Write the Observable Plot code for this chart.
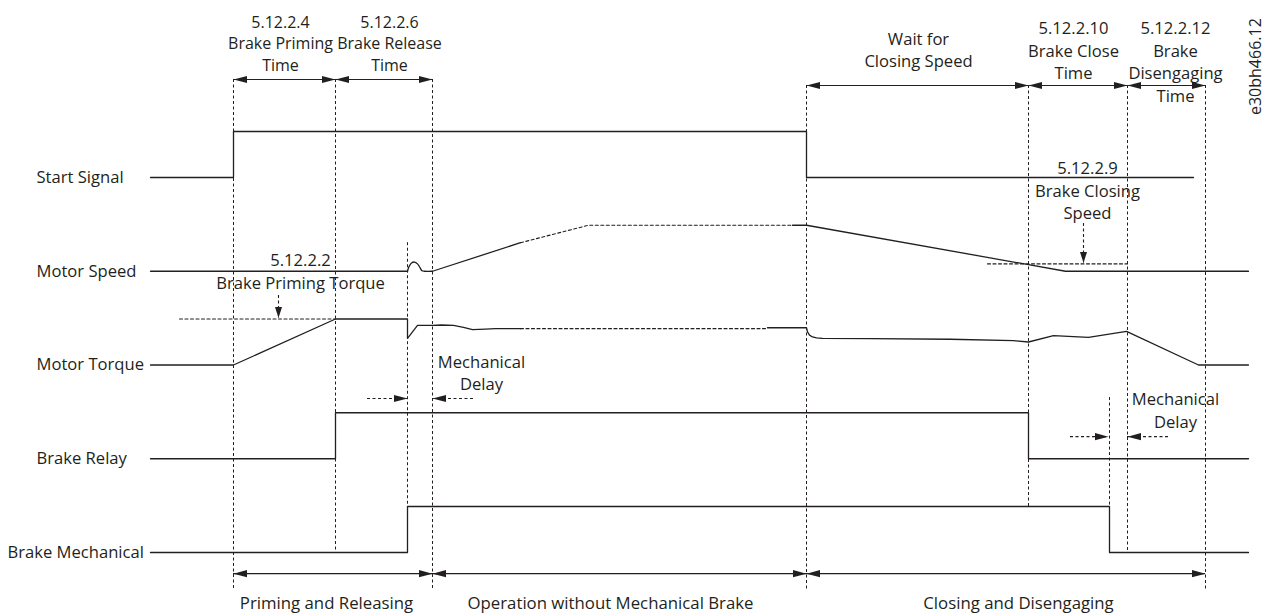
<!DOCTYPE html>
<html>
<head>
<meta charset="utf-8">
<script src="https://cdn.jsdelivr.net/npm/d3@7"></script>
<script src="https://cdn.jsdelivr.net/npm/@observablehq/plot@0.6"></script>
<style>
  html, body { margin: 0; padding: 0; background: #fff; }
  #chart svg { display: block; }
</style>
</head>
<body>
<div id="chart"></div>
<script>
// ---------- data (time on x, signal level 0..1 within each row) ----------
const rowLabels = ["Start Signal", "Motor Speed", "Motor Torque", "Brake Relay", "Brake Mechanical"];

const startSignal     = [[150,0],[233,0],[233,1],[806,1],[806,0],[1193,0]];
const motorSpeedA     = [[150,0],[407,0]];
const motorSpeedBump  = [[407,0],[408.5,0.1],[411,0.18],[414,0.2],[417,0.16],[419.5,0.08],[421.5,0.01],[424,0],[432,0]];
const motorSpeedRamp  = [[432,0],[520,0.62]];
const motorSpeedEst   = [[520,0.62],[588,1],[792,1]];
const motorSpeedB     = [[792,1],[806,1],[1065,0],[1248,0]];
const closingSpeed    = [[987,0.16],[1127,0.16]];
const motorTorqueA    = [[150,0],[233,0],[335,1],[407,1],[407,0.58],[417,0.86],[432,0.86],[441,0.87],[453,0.86],[463,0.82],[472,0.77],[485,0.78],[495,0.79],[520,0.79]];
const motorTorqueEst  = [[520,0.79],[767,0.79]];
const motorTorqueB    = [[767,0.81],[806,0.81],[807,0.72],[809,0.65],[812,0.61],[816,0.59],[822,0.58],[870,0.575],[950,0.56],[1013,0.53],[1028,0.5],[1053,0.64],[1088,0.6],[1126,0.73],[1198,0],[1248,0]];
const primingTorque   = [[179,1],[335,1]];
const brakeRelay      = [[150,0],[335,0],[335,1],[1028,1],[1028,0],[1248,0]];
const brakeMechanical = [[150,0],[407,0],[407,1],[1109,1],[1109,0],[1248,0]];

// event guide lines: time, [row, level] top, [row, level] bottom
const guideT    = [233, 335, 407, 432, 806, 1028, 1109, 1127, 1205];
const guideFrom = [[0,2.13],[0,2.13],[1,0.62],[0,2.13],[0,2.0],[0,2.0],[3,1.33],[0,2.0],[0,2.0]];
const guideTo   = [[4,-0.83],[4,0],[4,1],[4,-0.83],[4,-0.83],[4,1],[4,0],[4,0],[4,-0.83]];

// timing spans (double arrows)
const topSpansLeft  = [[233,335],[335,432]];
const topSpansRight = [[806,1028],[1028,1127],[1127,1205]];
const phaseSpans    = [[233,432],[432,806],[806,1205]];
const phaseLabels   = ["Priming and Releasing", "Operation without Mechanical Brake", "Closing and Disengaging"];
const phaseLabelT   = [326, 610, 1018];

// mechanical delay arrows: from, to, row, level
const delayArrows = [[367,407,3,1.31],[473,432,3,1.31],[1070,1108,3,0.48],[1168,1127,3,0.48]];
// vertical pointer arrows: time, row, level from, level to
const pointerArrows = [[278,2,1.51,1.02],[1083,1,1.04,0.18]];

// annotation texts
const notes = [
  [280, 0, 2.935, "5.12.2.4\nBrake Priming\nTime"],
  [389, 0, 2.935, "5.12.2.6\nBrake Release\nTime"],
  [918, 0, 2.80,  "Wait for\nClosing Speed"],
  [1073, 0, 2.78, "5.12.2.10\nBrake Close\nTime"],
  [1175, 0, 2.54, "5.12.2.12\nBrake\nDisengaging\nTime"],
  [300, 1, 0.016, "5.12.2.2\nBrake Priming Torque"],
  [1087, 1, 1.777, "5.12.2.9\nBrake Closing\nSpeed"],
  [481, 2, -0.152, "Mechanical\nDelay"],
  [1175, 3, 1.07, "Mechanical\nDelay"]
];
const figureCode = "e30bh466.12";

// ---------- helpers ----------
const INK = "#231f20";
const ROW = 93.75 / 46;                      // row spacing in level units
const Y = (row, level) => row * ROW - level;
const series = (pts, row) => pts.map(([t, v]) => ({t, y: Y(row, v)}));
const DASH = "3,2.5";

const headBig = {draw(c) { c.moveTo(0,0); c.lineTo(-13.5,-3.6); c.lineTo(-13.5,3.6); c.closePath(); }};
const headSmall = {draw(c) { c.moveTo(0,0); c.lineTo(-11,-3.5); c.lineTo(-11,3.5); c.closePath(); }};

const guides = guideT.map((t, i) => ({t, y1: Y(...guideFrom[i]), y2: Y(...guideTo[i])}));

const spans = [
  ...topSpansLeft.map(([a,b]) => ({a, b, y: Y(0, 2.13)})),
  ...topSpansRight.map(([a,b]) => ({a, b, y: Y(0, 2.0)})),
  ...phaseSpans.map(([a,b]) => ({a, b, y: Y(4, -0.46)}))
];
const spanHeads = spans.flatMap(s => [{t: s.a, y: s.y, r: 180}, {t: s.b, y: s.y, r: 0}]);

const delays = delayArrows.map(([a,b,row,lv]) => ({a, b, y: Y(row, lv), r: b > a ? 0 : 180}));
const pointers = pointerArrows.map(([t,row,l1,l2]) => ({t, y1: Y(row,l1), y2: Y(row,l2)}));

const rows = rowLabels.map((name, i) => ({name, y: Y(i, 0), i}));

const lineOpts = {x: "t", y: "y", stroke: INK, strokeWidth: 1.3};
const dashOpts = {x: "t", y: "y", stroke: INK, strokeWidth: 1.1, strokeDasharray: DASH};

const chart = Plot.plot({
  width: 1267,
  height: 613,
  margin: 0,
  x: {domain: [0, 1267], range: [0, 1267], axis: null},
  y: {domain: [(0 - 177) / 46, (613 - 177) / 46], range: [0, 613], axis: null},
  style: {fontFamily: "'Open Sans', sans-serif", fontSize: "16px", color: INK, background: "#fff"},
  marks: [
    // guides
    Plot.ruleX(guides, {x: "t", y1: "y1", y2: "y2", stroke: INK, strokeWidth: 1, strokeDasharray: DASH}),
    // signals
    Plot.line(series(startSignal, 0), lineOpts),
    Plot.line(series(motorSpeedA, 1), lineOpts),
    Plot.line(series(motorSpeedBump, 1), {...lineOpts, curve: "catmull-rom"}),
    Plot.line(series(motorSpeedRamp, 1), lineOpts),
    Plot.line(series(motorSpeedEst, 1), dashOpts),
    Plot.line(series(motorSpeedB, 1), lineOpts),
    Plot.line(series(closingSpeed, 1), dashOpts),
    Plot.line(series(motorTorqueA, 2), lineOpts),
    Plot.line(series(motorTorqueEst, 2), dashOpts),
    Plot.line(series(motorTorqueB, 2), lineOpts),
    Plot.line(series(primingTorque, 2), dashOpts),
    Plot.line(series(brakeRelay, 3), lineOpts),
    Plot.line(series(brakeMechanical, 4), lineOpts),
    // span arrows
    Plot.ruleY(spans, {y: "y", x1: "a", x2: "b", stroke: INK, strokeWidth: 1.2}),
    Plot.dot(spanHeads, {x: "t", y: "y", rotate: "r", symbol: headBig, fill: INK, stroke: "none"}),
    // delay arrows
    Plot.ruleY(delays, {y: "y", x1: "a", x2: "b", stroke: INK, strokeWidth: 1.1, strokeDasharray: DASH}),
    Plot.dot(delays, {x: "b", y: "y", rotate: "r", symbol: headBig, fill: INK, stroke: "none"}),
    // pointer arrows
    Plot.ruleX(pointers, {x: "t", y1: "y1", y2: "y2", stroke: INK, strokeWidth: 1.1, strokeDasharray: DASH}),
    Plot.dot(pointers, {x: "t", y: "y2", rotate: 90, symbol: headSmall, fill: INK, stroke: "none"}),
    // row labels
    Plot.text(rows, {x: d => d.i === 4 ? 7 : 36, y: "y", text: "name", textAnchor: "start", lineAnchor: "middle", fontSize: 16.6, fill: INK}),
    // annotations
    Plot.text(notes, {x: d => d[0], y: d => Y(d[1], d[2]), text: d => d[3], textAnchor: "middle", lineAnchor: "middle", lineHeight: 1.36, fontSize: d => d[0] < 400 && d[1] === 0 ? 16 : 16.6, fill: INK}),
    Plot.text(phaseLabels, {x: (d, i) => phaseLabelT[i], y: () => Y(4, -1.11), text: d => d, textAnchor: "middle", lineAnchor: "middle", fontSize: 16.8, fill: INK}),
    Plot.text([figureCode], {x: () => 1255, y: () => Y(0, 2.41), text: d => d, rotate: -90, textAnchor: "middle", lineAnchor: "middle", fontSize: 16, fill: INK})
  ]
});
document.getElementById("chart").append(chart);
</script>
</body>
</html>
